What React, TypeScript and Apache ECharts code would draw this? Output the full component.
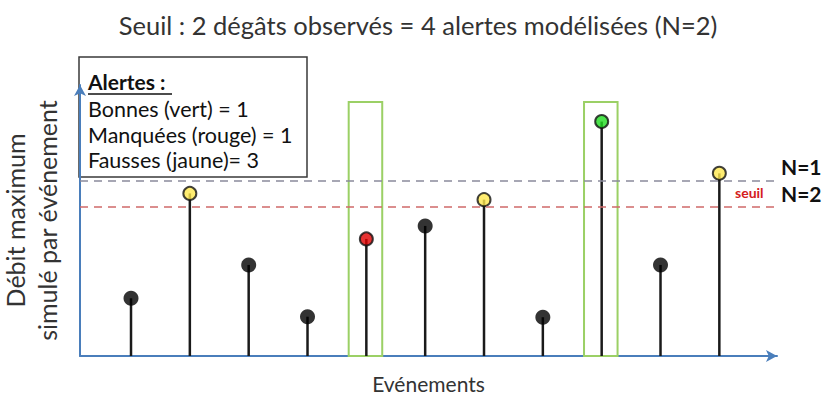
import React, { useEffect, useRef } from "react";
import * as echarts from "echarts";

// Data
const eventIndex = [1, 2, 3, 4, 5, 6, 7, 8, 9, 10, 11];
const debitMax = [21.3, 60.0, 33.6, 14.5, 43.2, 48.0, 57.7, 14.3, 86.5, 33.6, 67.4];
// alert status per event: "none" | "false" (jaune) | "missed" (rouge) | "good" (vert)
const status = ["none", "false", "none", "none", "missed", "none", "false", "none", "good", "none", "false"];
const thresholdN1 = 64.6;
const thresholdN2 = 55.1;
const observedDamageEvents = [5, 9];
const damageBoxTop = 93.7;

const titleText = "Seuil : 2 dégâts observés = 4 alertes modélisées (N=2)";
const legendLines = ["Bonnes (vert) = 1", "Manquées (rouge) = 1", "Fausses (jaune)= 3"];

const FONT = "Lato, 'Open Sans', sans-serif";

const statusColor: Record<string, string> = {
  none: "#000000",
  false: "#ffe94d",
  missed: "#e00000",
  good: "#1fdc1f",
};

export default function App() {
  const ref = useRef<HTMLDivElement>(null);
  useEffect(() => {
    if (!ref.current) return;
    const chart = echarts.init(ref.current, undefined, { renderer: "svg" });
    const points = eventIndex.map((x, i) => ({
      value: [x, debitMax[i]],
      symbolSize: status[i] === "none" ? 15 : 13,
      itemStyle: {
        color: statusColor[status[i]],
        borderColor: "#111",
        borderWidth: status[i] === "none" ? 0 : 2,
      },
    }));
    chart.setOption({
      animation: false,
      title: {
        text: titleText,
        left: 413,
        textAlign: "center",
        top: 7,
        textStyle: { fontFamily: FONT, fontWeight: "normal", fontSize: 25.5, color: "#333" },
      },
      grid: { left: 80, right: 49, top: 85, bottom: 47, outerBoundsMode: "none", containLabel: false },
      xAxis: {
        type: "value",
        min: 0.133,
        max: 11.98,
        name: "Evénements",
        nameLocation: "middle",
        nameGap: 17,
        nameTextStyle: { fontFamily: FONT, fontSize: 21, color: "#333", verticalAlign: "top" },
        axisLine: {
          show: true,
          symbol: ["none", "arrow"],
          symbolSize: [9, 11],
          lineStyle: { color: "#4a7ebb", width: 2 },
        },
        axisTick: { show: false },
        axisLabel: { show: false },
        splitLine: { show: false },
      },
      yAxis: {
        type: "value",
        min: 0,
        max: 100,
        name: "Débit maximum\nsimulé par événement",
        nameLocation: "middle",
        nameGap: 17,
        nameTextStyle: { fontFamily: FONT, fontSize: 25, lineHeight: 32, color: "#333" },
        axisLine: {
          show: true,
          symbol: ["none", "arrow"],
          symbolSize: [9, 11],
          lineStyle: { color: "#4a7ebb", width: 2 },
        },
        axisTick: { show: false },
        axisLabel: { show: false },
        splitLine: { show: false },
      },
      series: [
        {
          type: "bar",
          data: eventIndex.map((x, i) => [x, debitMax[i]]),
          barWidth: 2.5,
          itemStyle: { color: "#1a1a1a" },
          silent: true,
          z: 2,
          markLine: {
            silent: true,
            symbol: ["none", "none"],
            label: { show: false },
            data: [
              { yAxis: thresholdN1, lineStyle: { color: "#8a8a9c", type: [8, 6], width: 1.5 } },
              { yAxis: thresholdN2, lineStyle: { color: "#d06a6a", type: [8, 6], width: 1.5 } },
            ],
          },
          markArea: {
            silent: true,
            itemStyle: { color: "rgba(0,0,0,0)", borderColor: "#9bd065", borderWidth: 2 },
            data: observedDamageEvents.map((e) => [
              { xAxis: e - 0.3, yAxis: 0 },
              { xAxis: e + 0.27, yAxis: damageBoxTop },
            ]),
          },
        },
        {
          type: "scatter",
          data: points,
          z: 3,
          silent: true,
        },
      ],
      graphic: [
        {
          type: "rect",
          z: -1,
          shape: { x: 79, y: 57, width: 228, height: 120 },
          style: { fill: "#fff", stroke: "#3a3a3a", lineWidth: 1.5 },
        },
        {
          type: "text",
          x: 88,
          y: 81,
          style: {
            text: "Alertes :",
            fontFamily: FONT,
            fontSize: 21,
            fontWeight: "bold",
            fill: "#111",
            verticalAlign: "middle",
          },
        },
        {
          type: "line",
          shape: { x1: 88, y1: 94, x2: 172, y2: 94 },
          style: { stroke: "#111", lineWidth: 1.5 },
        },
        ...legendLines.map((t, i) => ({
          type: "text",
          x: 88,
          y: 109 + i * 25.5,
          style: {
            text: t,
            fontFamily: FONT,
            fontSize: 21.5,
            fill: "#111",
            verticalAlign: "middle",
          },
        })),
        {
          type: "text",
          x: 781,
          y: 166,
          style: { text: "N=1", fontFamily: FONT, fontSize: 21, fontWeight: "bold", fill: "#111", verticalAlign: "middle" },
        },
        {
          type: "text",
          x: 781,
          y: 193,
          style: { text: "N=2", fontFamily: FONT, fontSize: 21, fontWeight: "bold", fill: "#111", verticalAlign: "middle" },
        },
        {
          type: "text",
          x: 735,
          y: 192,
          style: { text: "seuil", fontFamily: FONT, fontSize: 14, fontWeight: "bold", fill: "#d42020", verticalAlign: "middle" },
        },
      ],
    });
    return () => chart.dispose();
  }, []);
  return <div ref={ref} style={{ width: 826, height: 403, position: "absolute", left: 0, top: 0, background: "#fff" }} />;
}
